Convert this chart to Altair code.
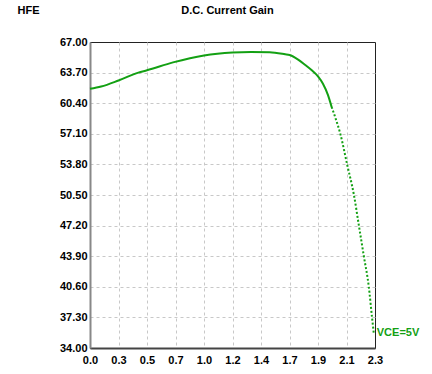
import altair as alt
import pandas as pd

# Collector-emitter voltage (x) and DC current gain (HFE)
vce_volts = [0.0, 0.09, 0.23, 0.39, 0.46, 0.67, 0.92, 1.15, 1.30, 1.45, 1.575, 1.61,
             1.68, 1.735, 1.79, 1.84, 1.88, 1.92, 1.95, 1.98, 2.02, 2.075, 2.13,
             2.17, 2.21, 2.25, 2.276, 2.29]
hfe = [61.95, 62.2, 62.85, 63.7, 63.95, 64.8, 65.55, 65.87, 65.93, 65.9, 65.68, 65.6,
       65.1, 64.55, 63.95, 63.3, 62.5, 61.3, 60.0, 58.84, 57.1, 53.8, 50.5,
       47.2, 43.9, 40.6, 37.3, 35.6]
series_label = "VCE=5V"

x_tick_values = [0.0, 0.23, 0.46, 0.69, 0.92, 1.15, 1.38, 1.61, 1.84, 2.07, 2.3]
x_tick_labels = ["0.0", "0.3", "0.5", "0.7", "1.0", "1.2", "1.4", "1.7", "1.9", "2.1", "2.3"]
y_tick_values = [34.0, 37.3, 40.6, 43.9, 47.2, 50.5, 53.8, 57.1, 60.4, 63.7, 67.0]

GREEN = "#13a013"
FONT = "Liberation Sans"

df = pd.DataFrame({"vce": vce_volts, "hfe": hfe})
df["order"] = range(len(df))
df["label"] = ""
df.loc[df.index[-1], "label"] = series_label

label_expr = "{" + ",".join(f"'{v:.2f}':'{l}'" for v, l in zip(x_tick_values, x_tick_labels)) + "}[format(datum.value,'.2f')]"

x = alt.X("vce:Q", scale=alt.Scale(domain=[0, 2.3], nice=False, zero=False),
          axis=alt.Axis(values=x_tick_values, labelExpr=label_expr, title=None,
                        grid=True, tickSize=0, labelPadding=6, labelFont=FONT,
                        labelFontSize=11, labelFontWeight="bold", labelColor="#000",
                        domainColor="#444", domainWidth=2, labelFlush=False,
                        gridOpacity={"condition": {"test": "datum.value >= 2.29 || datum.value <= 0.01", "value": 0}, "value": 1}))
y = alt.Y("hfe:Q", scale=alt.Scale(domain=[34, 67], nice=False, zero=False),
          axis=alt.Axis(values=y_tick_values, format=".2f", title="HFE",
                        titleAngle=0, titleAlign="left", titleBaseline="middle",
                        titleX=-73, titleY=-32, titleFont=FONT, titleFontSize=11,
                        titleFontWeight="bold", titleColor="#000",
                        grid=True, tickSize=0, labelPadding=3, labelFont=FONT,
                        labelFontSize=11, labelFontWeight="bold", labelColor="#000",
                        domainColor="#888", domainWidth=2, labelFlush=False,
                        gridOpacity={"condition": {"test": "datum.value >= 66.99 || datum.value <= 34.01", "value": 0}, "value": 1}))

base = alt.Chart(df)
solid = base.transform_filter("datum.vce <= 1.95").mark_line(
    color=GREEN, strokeWidth=2, interpolate="monotone").encode(x=x, y=y, order="order:Q")
dotted = base.transform_filter("datum.vce >= 1.95").mark_line(
    color=GREEN, strokeWidth=2, strokeDash=[2, 2], interpolate="monotone").encode(
    x=x, y=y, order="order:Q")
text = base.transform_filter("datum.label != ''").mark_text(
    align="left", baseline="middle", dx=3, color=GREEN, font=FONT,
    fontSize=11, fontWeight="bold").encode(x=x, y=y, text="label:N")

chart = alt.layer(solid, dotted, text).properties(
    width=285, height=306,
    title=alt.Title("D.C. Current Gain", font=FONT, fontSize=11, fontWeight="bold",
                    color="#000", anchor="middle", dx=-5, offset=0, dy=12),
    padding={"left": 90, "top": 42, "right": 57, "bottom": 26},
    autosize=alt.AutoSizeParams(type="none"),
).configure(background="white").configure_view(
    stroke="#222", strokeWidth=1
).configure_axis(
    gridColor="#c8c8c8", gridDash=[3, 3], gridWidth=1
)

chart.save("out.html", embed_options={"renderer": "svg", "actions": False})
